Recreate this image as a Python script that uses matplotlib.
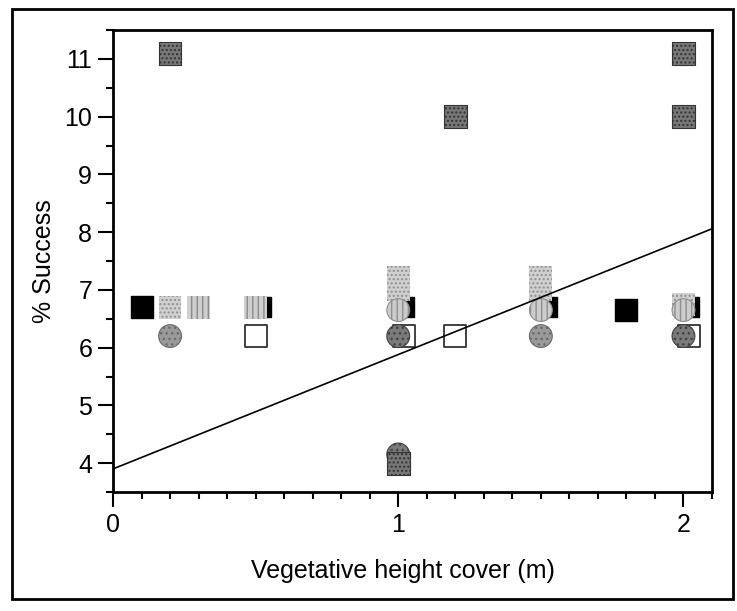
import matplotlib.pyplot as plt
from matplotlib.patches import Rectangle
from matplotlib.ticker import MultipleLocator
import numpy as np

# data (x = vegetative height cover, y = % success)
black_sq_x = [0.1, 1.8]
black_sq_y = [6.7, 6.65]

black_bar_x = [0.52, 1.02, 1.52, 2.02]
black_bar_y = [6.7, 6.7, 6.7, 6.7]

light_sq_x = [0.2, 1.0, 1.0, 1.5, 1.5, 2.0]
light_sq_y = [6.7, 7.22, 7.0, 7.22, 7.0, 6.75]

striped_sq_x = [0.3, 0.5]
striped_sq_y = [6.7, 6.7]

light_circ_x = [1.0, 1.5, 2.0]
light_circ_y = [6.65, 6.65, 6.65]

open_sq_x = [0.5, 1.02, 1.2, 2.02]
open_sq_y = [6.2, 6.2, 6.2, 6.2]

gray_circ_x = [0.2, 1.5]
gray_circ_y = [6.2, 6.2]

dark_circ_x = [1.0, 2.0, 1.0]
dark_circ_y = [6.2, 6.2, 4.15]

dark_sq_x = [0.2, 1.2, 2.0, 2.0, 1.0]
dark_sq_y = [11.1, 10.0, 11.1, 10.0, 4.0]

fit_intercept = 3.9
fit_slope = 1.98


if __name__ == "__main__":

    plt.rcParams['font.family'] = ['Liberation Sans', 'DejaVu Sans']
    plt.rcParams['hatch.linewidth'] = 1.0

    fig = plt.figure(figsize=(7.37, 6.11), dpi=100)
    ax = fig.add_axes([113/737, 1-492/611, 599/737, 462/611])

    ms = 270  # marker area in pt^2

    # back layer
    ax.scatter(black_bar_x, black_bar_y, s=210, marker='s', c='black', zorder=2)
    ax.scatter(open_sq_x, open_sq_y, s=ms, marker='s', facecolor='white', edgecolor='#333333', linewidth=1.3, zorder=2)

    # front layer
    ax.scatter(black_sq_x, black_sq_y, s=ms, marker='s', c='black', zorder=3)
    ax.scatter(light_sq_x, light_sq_y, s=ms, marker='s', facecolor='#d0d0d0', edgecolor='#8f8f8f', hatch='....', linewidth=0, zorder=3)
    ax.scatter(striped_sq_x, striped_sq_y, s=ms, marker='s', facecolor='#cfcfcf', edgecolor='#8a8a8a', hatch='|||', linewidth=0, zorder=3)
    ax.scatter(light_circ_x, light_circ_y, s=ms, marker='o', facecolor='#cccccc', edgecolor='#8f8f8f', hatch='|||', linewidth=0.8, zorder=4)
    ax.scatter(gray_circ_x, gray_circ_y, s=ms, marker='o', facecolor='#9a9a9a', edgecolor='#6a6a6a', hatch='...', linewidth=0.8, zorder=3)
    ax.scatter(dark_circ_x, dark_circ_y, s=ms, marker='o', facecolor='#7a7a7a', edgecolor='#404040', hatch='...', linewidth=0.8, zorder=3)
    ax.scatter(dark_sq_x, dark_sq_y, s=ms, marker='s', facecolor='#777777', edgecolor='#333333', hatch='....', linewidth=0.8, zorder=3)

    # regression line
    xs = np.array([0, 2.1])
    ax.plot(xs, fit_intercept + fit_slope * xs, c='k', lw=1.2, zorder=5)

    ax.set_xlim(0, 2.1)
    ax.set_ylim(3.5, 11.5)
    ax.xaxis.set_major_locator(MultipleLocator(1))
    ax.xaxis.set_minor_locator(MultipleLocator(0.1))
    ax.yaxis.set_major_locator(MultipleLocator(1))
    ax.yaxis.set_minor_locator(MultipleLocator(0.5))
    ax.tick_params(which='major', length=11, width=1.5, labelsize=18, pad=4)
    ax.tick_params(which='minor', length=5, width=1.5)

    for s in ax.spines.values():
        s.set_linewidth(2)

    ax.set_xlabel("Vegetative height cover (m)", fontsize=18)
    ax.xaxis.set_label_coords(0.484, -0.145)
    ax.set_ylabel("% Success", fontsize=18, labelpad=6)

    # outer frame around the whole figure
    fig.patches.append(Rectangle((12/737, 1-599/611), 721/737, 590/611, transform=fig.transFigure,
                                 fill=False, edgecolor='k', linewidth=2))

    fig.savefig("out.png", dpi=100)
